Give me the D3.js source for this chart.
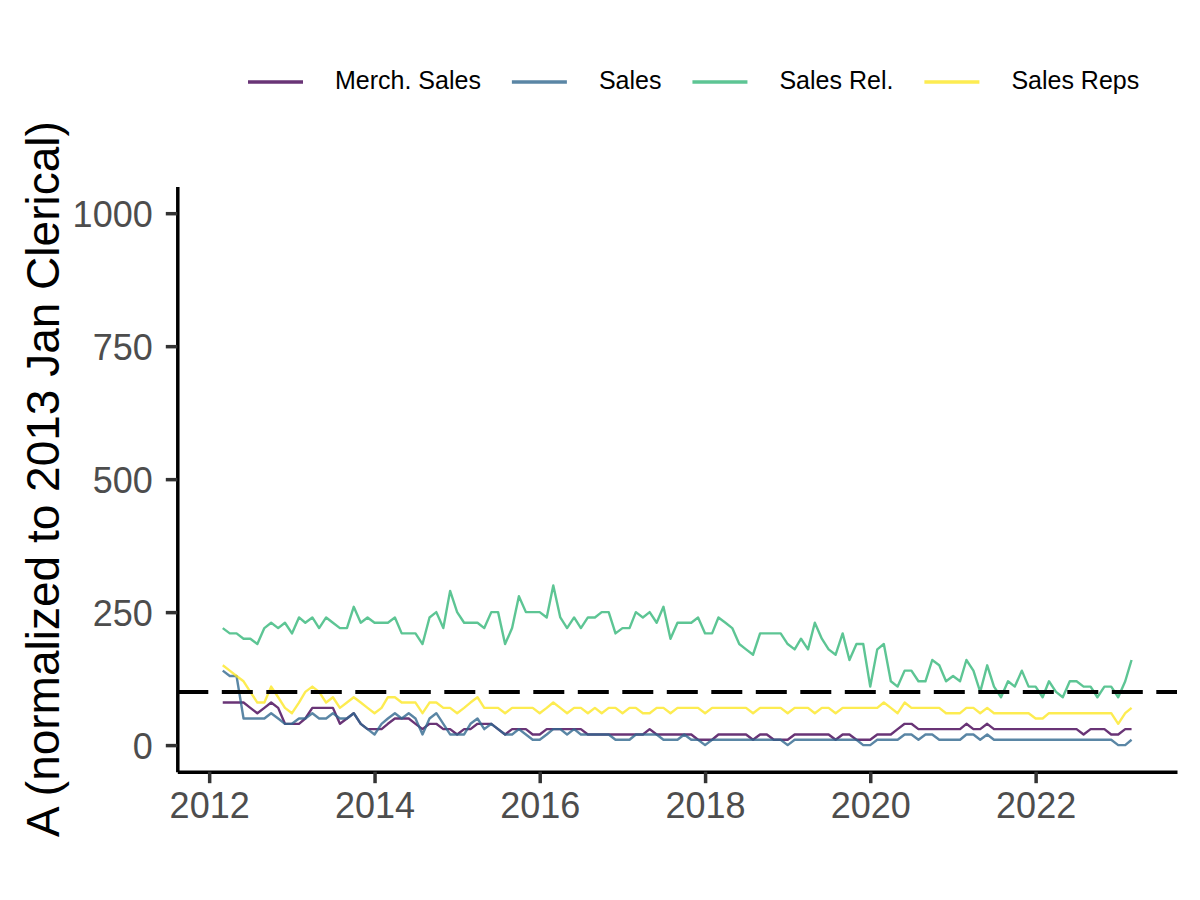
<!DOCTYPE html>
<html>

<head>
  <meta http-equiv="content-type" content="text/html; charset=utf-8">
  <title>Normalized A by occupation</title>
  <style>
    body {
      margin: 0;
      background: #fff;
    }

    text {
      font-family: "Liberation Sans", Arial, Helvetica, sans-serif;
    }

    .tick_label {
      font-size: 36px;
      fill: #4d4d4d;
    }

    .axis_title {
      font-size: 46px;
      fill: #000;
    }

    .legend_label {
      font-size: 25px;
      fill: #000;
      dominant-baseline: middle;
    }

    .series {
      fill: none;
      stroke-width: 2.4;
      stroke-linejoin: round;
      stroke-opacity: 0.8;
    }
  </style>
</head>

<body>
  <svg id="canvas"></svg>
  <script src="https://cdnjs.cloudflare.com/ajax/libs/d3/7.8.5/d3.min.js"></script>
  <script>

    // monthly, March 2012 .. March 2023
    const first_month = new Date(2012, 2, 1);
    const last_month = new Date(2023, 2, 1);

    const series_names = ["Merch. Sales", "Sales", "Sales Rel.", "Sales Reps"];
    const series_colors = ["#440154", "#31688e", "#35b779", "#fde725"];

    const merch_sales = [80, 80, 80, 80, 70, 60, 70, 80, 70, 40, 40, 40, 50, 70, 70, 70, 70, 40, 50, 60, 40, 30, 30, 30, 40, 50, 50, 50, 40, 30, 40,
      40, 30, 30, 20, 30, 30, 40, 40, 40, 30, 20, 30, 30, 30, 20, 20, 30, 30, 30, 30, 30, 30, 20, 20, 20, 20, 20, 20, 20, 20, 20, 30, 20, 20, 20,
      20, 20, 20, 10, 10, 10, 20, 20, 20, 20, 20, 10, 20, 20, 10, 10, 10, 20, 20, 20, 20, 20, 20, 10, 20, 20, 10, 10, 10, 20, 20, 20, 30,
      40, 40, 30, 30, 30, 30, 30, 30, 30, 40, 30, 30, 40, 30, 30, 30, 30, 30, 30, 30, 30, 30, 30, 30, 30, 30, 20, 30, 30, 30, 20, 20, 30, 30];

    const sales = [140, 130, 130, 50, 50, 50, 50, 60, 50, 40, 40, 50, 50, 60, 50, 50, 60, 50, 50, 60, 40, 30, 20, 40, 50, 60, 50, 60, 50, 20, 50,
      60, 40, 20, 20, 20, 40, 50, 30, 40, 30, 20, 20, 30, 20, 10, 10, 20, 30, 30, 20, 30, 20, 20, 20, 20, 20, 10, 10, 10, 20, 20, 20, 20, 10, 10,
      10, 20, 10, 10, 0, 10, 10, 10, 10, 10, 10, 10, 10, 10, 10, 10, 0, 10, 10, 10, 10, 10, 10, 10, 10, 10, 10, 0, 0, 10, 10, 10, 10,
      20, 20, 10, 20, 20, 10, 10, 10, 10, 20, 20, 10, 20, 10, 10, 10, 10, 10, 10, 10, 10, 10, 10, 10, 10, 10, 10, 10, 10, 10, 10, 0, 0, 10, 10];

    const sales_rel = [220, 210, 210, 200, 200, 190, 220, 230, 220, 230, 210, 240, 230, 240, 220, 240, 230, 220, 220, 260, 230, 240, 230, 230, 230, 240, 210, 210, 210, 190, 240,
      250, 220, 290, 250, 230, 230, 230, 220, 250, 250, 190, 220, 280, 250, 250, 250, 240, 300, 240, 220, 240, 220, 240, 240, 250, 250, 210, 220, 220, 250, 240, 250, 230, 260, 200,
      230, 230, 230, 240, 210, 210, 240, 230, 220, 190, 180, 170, 210, 210, 210, 210, 190, 180, 200, 180, 230, 200, 180, 170, 210, 160, 190, 190, 110, 180, 190, 120, 110,
      140, 140, 120, 120, 160, 150, 120, 130, 120, 160, 140, 100, 150, 110, 90, 120, 110, 140, 110, 110, 90, 120, 100, 90, 120, 120, 110, 110, 90, 110, 110, 90, 120, 160];

    const sales_reps = [150, 140, 130, 120, 100, 80, 80, 110, 90, 70, 60, 80, 100, 110, 100, 80, 90, 70, 80, 90, 80, 70, 60, 70, 90, 90, 80, 80, 80, 60, 80,
      80, 70, 70, 60, 70, 80, 90, 70, 70, 70, 60, 70, 70, 70, 70, 60, 70, 80, 70, 60, 70, 70, 60, 70, 60, 70, 70, 60, 70, 70, 60, 60, 70, 70, 60,
      70, 70, 70, 70, 60, 70, 70, 70, 70, 70, 70, 60, 70, 70, 70, 70, 60, 70, 70, 70, 60, 70, 70, 60, 70, 70, 70, 70, 70, 70, 80, 70, 60,
      80, 70, 70, 70, 70, 70, 60, 60, 60, 70, 70, 60, 70, 60, 60, 60, 60, 60, 60, 50, 50, 60, 60, 60, 60, 60, 60, 60, 60, 60, 60, 40, 60, 70];

    const reference_level = 100;
    const x_tick_years = [2012, 2014, 2016, 2018, 2020, 2022];
    const y_ticks = [0, 250, 500, 750, 1000];
    const y_limits = [0, 1000];
    const y_title = "A (normalized to 2013 Jan Clerical)";

    const months = d3.timeMonth.range(first_month, d3.timeMonth.offset(last_month, 1));
    const all_values = [merch_sales, sales, sales_rel, sales_reps];
    const series = series_names.map((name, k) => ({
      name: name,
      color: series_colors[k],
      points: months.map((m, i) => ({ date: m, value: all_values[k][i] }))
    }));

    const dims = { width: 1200, height: 900, left: 177.3, right: 1177, top: 186.6, bottom: 771.7, tick: 11.5, axis_lw: 3.5 };

    const svg = d3.select("svg#canvas")
      .attr("width", dims.width)
      .attr("height", dims.height);

    // ggplot-like 5% expansion
    const span = last_month - first_month;
    const x = d3.scaleTime()
      .domain([new Date(+first_month - 0.05 * span), new Date(+last_month + 0.05 * span)])
      .range([dims.left, dims.right]);

    const y_span = y_limits[1] - y_limits[0];
    const y = d3.scaleLinear()
      .domain([y_limits[0] - 0.05 * y_span, y_limits[1] + 0.05 * y_span])
      .range([dims.bottom, dims.top]);

    const line = d3.line()
      .x(p => x(p.date))
      .y(p => y(p.value));

    svg.append("g")
      .selectAll(".series")
      .data(series)
      .enter().append("path")
      .attr("class", "series")
      .attr("stroke", s => s.color)
      .attr("d", s => line(s.points));

    svg.append("line")
      .attr("x1", dims.left)
      .attr("x2", dims.right)
      .attr("y1", y(reference_level))
      .attr("y2", y(reference_level))
      .attr("stroke", "#000")
      .attr("stroke-width", 4)
      .attr("stroke-dasharray", "31 13.5");

    // axes
    const x_axis = d3.axisBottom(x)
      .tickValues(x_tick_years.map(yr => new Date(yr, 0, 1)))
      .tickFormat(d3.timeFormat("%Y"))
      .tickSize(dims.tick)
      .tickSizeOuter(0);

    const gx = svg.append("g")
      .attr("transform", "translate(0," + dims.bottom + ")")
      .call(x_axis);

    const y_axis = d3.axisLeft(y)
      .tickValues(y_ticks)
      .tickFormat(d3.format("d"))
      .tickSize(dims.tick)
      .tickSizeOuter(0);

    const gy = svg.append("g")
      .attr("transform", "translate(" + dims.left + ",0)")
      .call(y_axis);

    [gx, gy].forEach(g => {
      g.select(".domain").attr("stroke", "#000").attr("stroke-width", dims.axis_lw);
      g.selectAll(".tick line").attr("stroke", "#333333").attr("stroke-width", dims.axis_lw);
      g.selectAll(".tick text").attr("class", "tick_label").attr("fill", null);
      g.attr("font-size", null).attr("font-family", null);
    });

    gx.selectAll(".tick text").attr("y", 46).attr("dy", 0);
    gy.selectAll(".tick text").attr("x", -24.6).attr("dy", "0.36em");

    svg.append("text")
      .attr("class", "axis_title")
      .attr("text-anchor", "middle")
      .attr("transform", "translate(59," + ((dims.top + dims.bottom) / 2) + ")rotate(-90)")
      .text(y_title);

    // legend on top
    const legend = svg.append("g").attr("transform", "translate(0,82)");
    let lx = 248;
    series.forEach(s => {
      legend.append("line")
        .attr("x1", lx)
        .attr("x2", lx + 55)
        .attr("stroke", s.color)
        .attr("stroke-opacity", 0.8)
        .attr("stroke-width", 3.5);
      const t = legend.append("text")
        .attr("class", "legend_label")
        .attr("x", lx + 87)
        .text(s.name);
      lx += 87 + t.node().getComputedTextLength() + 31;
    });

  </script>
</body>

</html>
